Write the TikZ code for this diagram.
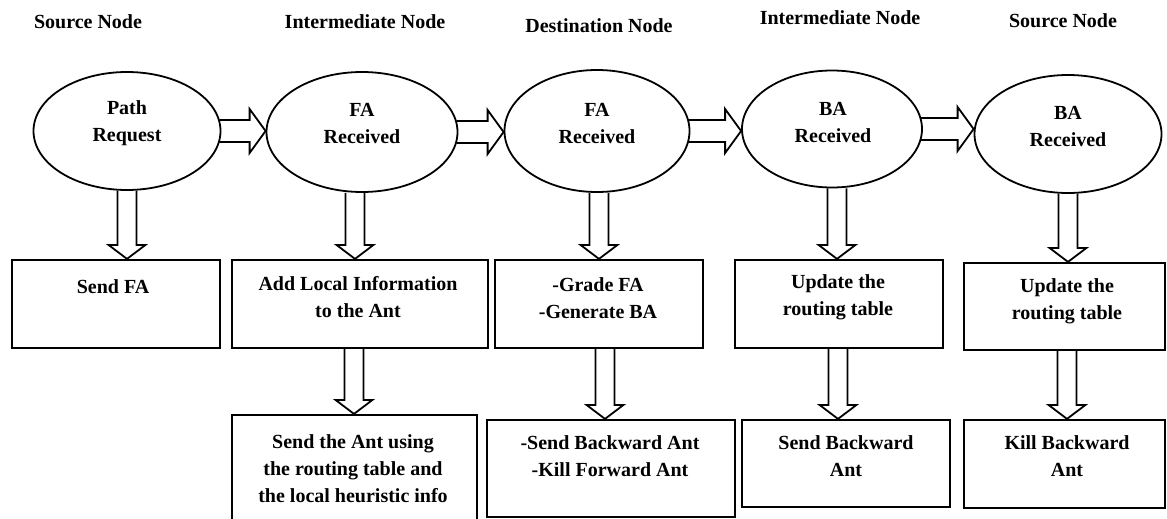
\documentclass[tikz,border=0pt]{standalone}
\usepackage{fontspec}
\setmainfont{Liberation Serif}
\usetikzlibrary{shapes.geometric,calc}

\tikzset{
  stage/.style={ellipse, draw, line width=1.8pt, inner sep=0pt},
  taskbox/.style={rectangle, draw, line width=2.2pt, inner sep=0pt},
  headtext/.style={font=\fontsize{20}{24}\selectfont\bfseries, anchor=base},
  txt/.style={align=center, font=\fontsize{20}{27}\selectfont\bfseries},
  blockarr/.style={draw, line width=1.8pt, line join=miter},
}

% hollow block arrow between two stages (left to right)
\newcommand{\harrow}[2]{%
  \draw[blockarr] let \p1=(#1.east), \p2=(#2.west) in
    (\x1-2pt,\y1+11pt) -- (\x2-16pt,\y1+11pt) -- (\x2-16pt,\y1+22pt) -- (\x2,\y1)
    -- (\x2-16pt,\y1-22pt) -- (\x2-16pt,\y1-11pt) -- (\x1-2pt,\y1-11pt);}

% hollow block arrow pointing down at x = #1, from anchor #2 to anchor #3
\newcommand{\varrow}[3]{%
  \draw[blockarr] let \p1=(#2), \p2=(#3) in
    (#1pt-9.5pt,\y1) -- (#1pt-9.5pt,\y2+14pt) -- (#1pt-18.5pt,\y2+14pt) -- (#1pt,\y2)
    -- (#1pt+18.5pt,\y2+14pt) -- (#1pt+9.5pt,\y2+14pt) -- (#1pt+9.5pt,\y1);}

\begin{document}
\begin{tikzpicture}[x=1pt,y=-1pt]
\useasboundingbox (0,0) rectangle (1167,519);

% column headings
\node[headtext] (h1) at (88,29)   {Source Node};
\node[headtext] (h2) at (365,29)  {Intermediate Node};
\node[headtext] (h3) at (599,33)  {Destination Node};
\node[headtext] (h4) at (840,25)  {Intermediate Node};
\node[headtext] (h5) at (1063,28) {Source Node};

% stages
\node[stage, minimum width=187pt, minimum height=118pt] (e1) at (127,131) {};
\node[stage, minimum width=191pt, minimum height=120pt] (e2) at (362,132) {};
\node[stage, minimum width=185pt, minimum height=122pt] (e3) at (597,131) {};
\node[stage, minimum width=180pt, minimum height=117pt] (e4) at (832,129) {};
\node[stage, minimum width=187pt, minimum height=118pt] (e5) at (1068,134) {};

\node[txt] (te1) at (127,123.5)  {Path\\Request};
\node[txt] (te2) at (362,123.5)  {FA\\Received};
\node[txt] (te3) at (597,123.5)  {FA\\Received};
\node[txt] (te4) at (833,122.5)  {BA\\Received};
\node[txt] (te5) at (1068,126.5) {BA\\Received};

% actions
\node[taskbox, minimum width=208pt, minimum height=88pt] (b1) at (116,304) {};
\node[taskbox, minimum width=256pt, minimum height=88pt] (b2) at (360,304) {};
\node[taskbox, minimum width=208pt, minimum height=88pt] (b3) at (599,304) {};
\node[taskbox, minimum width=208pt, minimum height=88pt] (b4) at (839,304) {};
\node[taskbox, minimum width=201pt, minimum height=87pt] (b5) at (1064.5,306.5) {};

\node[taskbox, minimum width=245pt, minimum height=115pt] (c2) at (354.5,472.5) {};
\node[taskbox, minimum width=248pt, minimum height=97pt]  (c3) at (611,468.5) {};
\node[taskbox, minimum width=208pt, minimum height=87pt]  (c4) at (846,463.5) {};
\node[taskbox, minimum width=201pt, minimum height=88pt]  (c5) at (1064.5,464) {};

\node[txt] (tb1) at (113,287)    {Send FA};
\node[txt] (tb2) at (358,297.5)  {Add Local Information\\to the Ant};
\node[txt] (tb3) at (598,298)    {-Grade FA\\-Generate BA};
\node[txt] (tb4) at (838,297.5)  {Update the\\routing table};
\node[txt] (tb5) at (1067,301.5) {Update the\\routing table};

\node[txt] (tc2) at (353,469)    {Send the Ant using\\the routing table and\\the local heuristic info};
\node[txt] (tc3) at (610,456.5)  {-Send Backward Ant\\-Kill Forward Ant};
\node[txt] (tc4) at (846,456.5)  {Send Backward\\Ant};
\node[txt] (tc5) at (1067,456.5) {Kill Backward\\Ant};

% flow between stages
\harrow{e1}{e2}
\harrow{e2}{e3}
\harrow{e3}{e4}
\harrow{e4}{e5}

% stage to first action
\varrow{127}{e1.south}{b1.north}
\varrow{355}{e2.south}{b2.north}
\varrow{599}{e3.south}{b3.north}
\varrow{837}{e4.south}{b4.north}
\varrow{1068}{e5.south}{b5.north}

% first action to second action
\varrow{354}{b2.south}{c2.north}
\varrow{605}{b3.south}{c3.north}
\varrow{838}{b4.south}{c4.north}
\varrow{1067}{b5.south}{c5.north}
\end{tikzpicture}
\end{document}
